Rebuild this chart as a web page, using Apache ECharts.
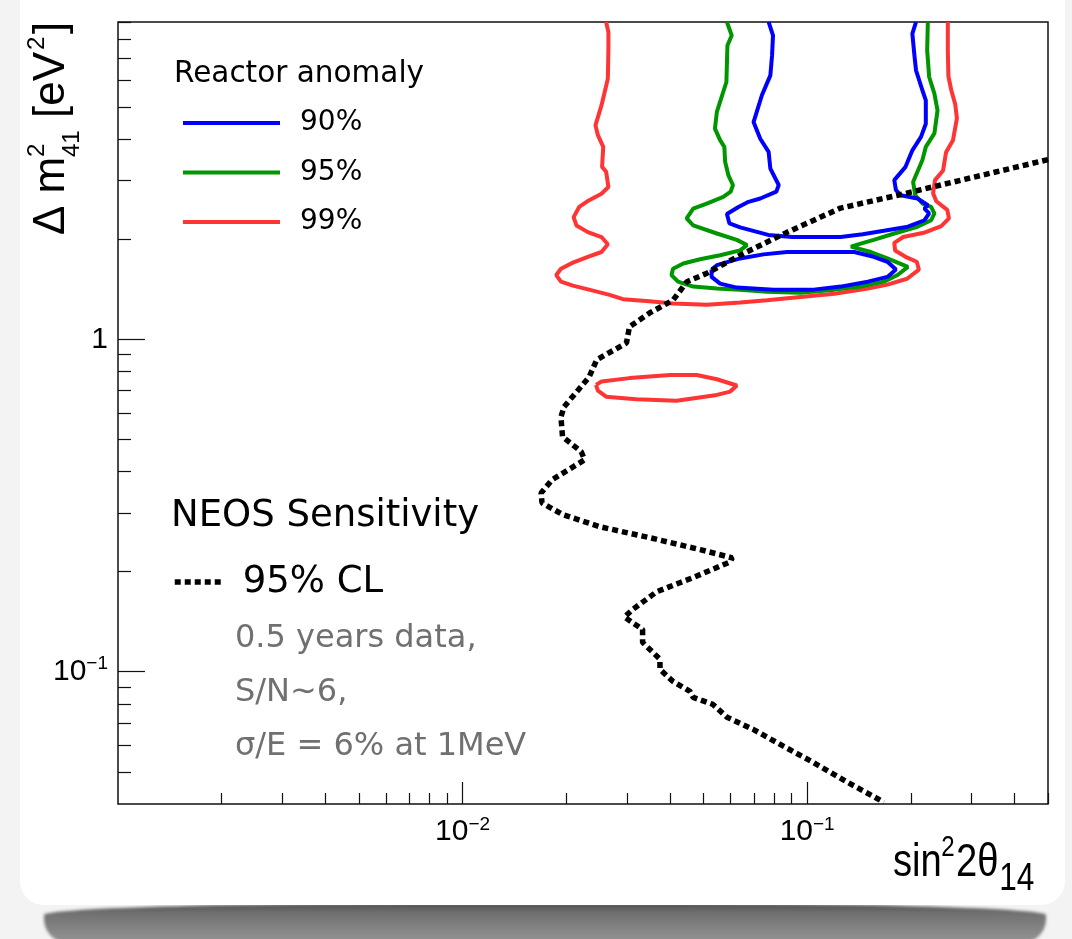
<!DOCTYPE html>
<html>
<head>
<meta charset="utf-8">
<title>NEOS sensitivity vs reactor anomaly</title>
<script src="https://cdn.jsdelivr.net/npm/echarts@6/dist/echarts.min.js"></script>
<style>
  html, body { margin: 0; padding: 0; width: 1072px; height: 939px; overflow: hidden; background: #f3f3f3; }
  #shadow { position: absolute; left: 44px; top: 903px; width: 1002px; height: 40px;
            background: linear-gradient(#4e4e4e, #707070 25%, #959595);
            border-radius: 40% 40% 24px 24px / 12px 12px 24px 24px; filter: blur(1.5px); }
  #paper { position: absolute; left: 20px; top: -24px; width: 1045px; height: 929px;
           background: #fff; border-radius: 24px; }
  #chart { position: absolute; left: 0; top: 0; width: 1072px; height: 939px; }
</style>
</head>
<body>
<div id="shadow"></div>
<div id="paper"></div>
<div id="chart"></div>
<script>
// axis ranges (sin^2 2theta_14 vs dm^2_41)
var xMin = 0.001, xMax = 0.5;
var yMin = 0.04, yMax = 9;

// labelled decades, major and minor tick positions
var xTickLabels = [
  { value: 0.01, text: '{b|10}{e|\u22122}' },
  { value: 0.1, text: '{b|10}{e|\u22121}' }
];
var yTickLabels = [
  { value: 0.1, text: '{b|10}{e|\u22121}' },
  { value: 1, text: '{b|1}' }
];
var xMajor = [0.01, 0.1];
var yMajor = [0.1, 1];
var xMinor = [0.002, 0.003, 0.004, 0.005, 0.006, 0.007, 0.008, 0.009,
              0.02, 0.03, 0.04, 0.05, 0.06, 0.07, 0.08, 0.09,
              0.2, 0.3, 0.4, 0.5];
var yMinor = [0.05, 0.06, 0.07, 0.08, 0.09,
              0.2, 0.3, 0.4, 0.5, 0.6, 0.7, 0.8, 0.9,
              2, 3, 4, 5, 6, 7, 8, 9];

// Reactor anomaly 99% contour (open at the top) + small island
var red99 = [
  [0.0261, 9], [0.0265, 8.39], [0.0265, 7.48], [0.0264, 6.08], [0.0253, 5.05], [0.0243, 4.40],
  [0.0247, 4.11], [0.0256, 3.79], [0.0254, 3.30], [0.0261, 3.19], [0.0265, 2.87], [0.0253, 2.74],
  [0.0233, 2.62], [0.0218, 2.50], [0.0210, 2.33], [0.0214, 2.20], [0.0231, 2.10], [0.0253, 2.03],
  [0.0264, 1.93], [0.0253, 1.83], [0.0231, 1.77], [0.0209, 1.70], [0.0193, 1.63], [0.0187, 1.56],
  [0.0193, 1.49], [0.0209, 1.45], [0.0239, 1.40], [0.0267, 1.36], [0.0292, 1.32], [0.0349, 1.30],
  [0.0408, 1.28], [0.0511, 1.27], [0.0639, 1.29], [0.0764, 1.31], [0.0956, 1.34], [0.120, 1.37],
  [0.150, 1.42], [0.171, 1.46], [0.195, 1.52], [0.211, 1.62], [0.208, 1.71], [0.193, 1.77],
  [0.180, 1.85], [0.179, 1.95], [0.190, 2.03], [0.218, 2.09], [0.245, 2.19], [0.258, 2.31],
  [0.255, 2.45], [0.237, 2.60], [0.232, 2.75], [0.235, 3.01], [0.248, 3.22], [0.253, 3.65],
  [0.265, 3.97], [0.272, 4.62], [0.269, 5.09], [0.262, 5.61], [0.257, 6.18], [0.256, 7.39], [0.256, 9]
];
var red99Island = [
  [0.0244, 0.729], [0.0253, 0.746], [0.0305, 0.764], [0.0400, 0.781], [0.0478, 0.781],
  [0.0547, 0.758], [0.0625, 0.726], [0.0598, 0.696], [0.0547, 0.680], [0.0418, 0.653],
  [0.0319, 0.660], [0.0261, 0.672], [0.0247, 0.701], [0.0244, 0.729]
];

// 95% contour
var green95 = [
  [0.0585, 9], [0.0604, 8.20], [0.0587, 7.65], [0.0583, 5.94], [0.0547, 4.83], [0.0540, 4.30],
  [0.0559, 3.97], [0.0575, 3.79], [0.0578, 3.42], [0.0591, 3.11], [0.0609, 2.91], [0.0600, 2.78],
  [0.0571, 2.68], [0.0511, 2.56], [0.0467, 2.47], [0.0447, 2.31], [0.0467, 2.20], [0.0547, 2.08],
  [0.0625, 1.99], [0.0669, 1.92], [0.0639, 1.85], [0.0559, 1.79], [0.0489, 1.74], [0.0437, 1.69],
  [0.0408, 1.63], [0.0404, 1.56], [0.0422, 1.49], [0.0467, 1.44], [0.0547, 1.42], [0.0639, 1.41],
  [0.0764, 1.39], [0.0956, 1.38], [0.120, 1.41], [0.143, 1.44], [0.167, 1.49], [0.183, 1.56],
  [0.196, 1.65], [0.171, 1.75], [0.153, 1.83], [0.134, 1.90], [0.143, 1.94], [0.156, 1.99],
  [0.179, 2.08], [0.209, 2.18], [0.229, 2.28], [0.234, 2.39], [0.229, 2.50], [0.216, 2.56],
  [0.206, 2.71], [0.203, 2.97], [0.216, 3.46], [0.221, 3.79], [0.234, 4.16], [0.239, 4.88],
  [0.234, 5.48], [0.226, 6.15], [0.223, 7.39], [0.224, 9]
];

// 90% contour: upper band (open at top) + lower closed loop
var blue90 = [
  [0.0773, 9], [0.0796, 8.20], [0.0791, 7.14], [0.0782, 6.22], [0.0739, 5.42], [0.0699, 4.50],
  [0.0731, 4.01], [0.0773, 3.66], [0.0782, 3.26], [0.0827, 2.91], [0.0814, 2.78], [0.0731, 2.65],
  [0.0676, 2.59], [0.0632, 2.50], [0.0585, 2.38], [0.0595, 2.23], [0.0639, 2.17], [0.0771, 2.06],
  [0.0906, 2.03], [0.125, 2.03], [0.145, 2.07], [0.167, 2.12], [0.196, 2.18], [0.219, 2.28],
  [0.226, 2.39], [0.219, 2.47], [0.224, 2.53], [0.209, 2.65], [0.187, 2.71], [0.181, 2.81],
  [0.179, 3.01], [0.193, 3.30], [0.202, 3.70], [0.214, 4.06], [0.221, 4.45], [0.221, 5.23],
  [0.216, 5.61], [0.207, 6.44], [0.205, 7.06], [0.202, 8.30], [0.207, 9]
];
var blue90Island = [
  [0.0528, 1.62], [0.0547, 1.67], [0.0639, 1.75], [0.0747, 1.80], [0.0874, 1.83], [0.137, 1.83],
  [0.156, 1.77], [0.171, 1.71], [0.181, 1.62], [0.171, 1.54], [0.150, 1.49], [0.125, 1.44],
  [0.1045, 1.41], [0.0799, 1.41], [0.0625, 1.43], [0.0559, 1.47], [0.0528, 1.54], [0.0528, 1.62]
];

// NEOS 95% CL sensitivity
var neos95 = [
  [0.5, 3.47], [0.280, 3.01], [0.183, 2.71], [0.125, 2.48], [0.0876, 2.10], [0.0639, 1.79],
  [0.0512, 1.58], [0.0448, 1.49], [0.0408, 1.31], [0.0349, 1.20], [0.0305, 1.09], [0.0299, 0.975],
  [0.0245, 0.867], [0.0233, 0.770], [0.0197, 0.626], [0.0193, 0.584], [0.0195, 0.509], [0.0221, 0.459],
  [0.0226, 0.434], [0.0182, 0.378], [0.0169, 0.345], [0.0170, 0.322], [0.0195, 0.297], [0.0250, 0.273],
  [0.0349, 0.253], [0.0489, 0.233], [0.0606, 0.220], [0.0598, 0.214], [0.0467, 0.192], [0.0366, 0.174],
  [0.0312, 0.154], [0.0295, 0.146], [0.0333, 0.134], [0.0333, 0.1225], [0.0374, 0.109], [0.0374, 0.1016],
  [0.0408, 0.0935], [0.0457, 0.0873], [0.0467, 0.0837], [0.0533, 0.0797], [0.0586, 0.0729], [0.0697, 0.0671],
  [0.0853, 0.0597], [0.104, 0.0534], [0.131, 0.0465], [0.167, 0.0405]
];

var noteLines = ['0.5 years data,', 'S/N~6,', '\u03c3/E = 6% at 1MeV'];

(function() {
  var chart = echarts.init(document.getElementById('chart'));
  var tickFont = '"Liberation Sans", Arial, sans-serif';
  var textFont = '"DejaVu Sans", sans-serif';
  var ink = '#000';
  var gray = '#707070';
  var red = '#ff3535', green = '#009600', blue = '#0000ff';
  var dots = [6, 4];

  function decadeLabel(list) {
    return function(v) {
      for (var i = 0; i < list.length; i++) {
        if (Math.abs(v / list[i].value - 1) < 1e-6) return list[i].text;
      }
      return '';
    };
  }
  function logOf(vals) {
    return vals.map(function(v) { return Math.log10(v); });
  }

  var tickRich = {
    b: { fontSize: 30, fontFamily: tickFont, color: ink, lineHeight: 34 },
    e: { fontSize: 19, fontFamily: tickFont, color: ink, lineHeight: 14, verticalAlign: 'top' }
  };
  var tickLine = { color: '#111', width: 1.2 };

  // overlay axis in log10 units, only used to draw ticks at given values
  function tickAxis(pos, lo, hi, values, len) {
    return {
      type: 'value', min: Math.log10(lo), max: Math.log10(hi), position: pos,
      axisLine: { show: false, onZero: false }, splitLine: { show: false }, axisLabel: { show: false },
      axisTick: { inside: true, length: len, customValues: logOf(values), lineStyle: tickLine }
    };
  }

  function contour(name, data, color) {
    return {
      type: 'line', name: name, data: data,
      symbol: 'none', showSymbol: false,
      lineStyle: { color: color, width: 4 },
      itemStyle: { color: color },
      clip: true, silent: true, z: 2
    };
  }

  // text pieces for the axis titles (super/subscripts placed by hand)
  function piece(text, x, y, size) {
    return { type: 'text', x: x, y: y,
      style: { text: text, fontSize: size, fontFamily: tickFont, fill: ink, align: 'left', verticalAlign: 'middle' } };
  }

  var notes = noteLines.map(function(t, i) {
    return { type: 'text', x: 235, y: 639 + i * 54,
      style: { text: t, fontSize: 32, fontFamily: textFont, fill: gray, verticalAlign: 'middle' } };
  });

  chart.setOption({
    animation: false,
    grid: { left: 118, top: 22, width: 930, height: 782, show: true, borderColor: '#111', borderWidth: 1.5 },
    xAxis: [{
      type: 'log', logBase: 10, min: xMin, max: xMax, position: 'bottom',
      axisLine: { show: false, onZero: false }, splitLine: { show: false },
      axisTick: { show: false },
      axisLabel: { margin: 11, formatter: decadeLabel(xTickLabels), rich: tickRich }
    },
      tickAxis('bottom', xMin, xMax, xMinor, 11),
      tickAxis('bottom', xMin, xMax, xMajor, 22)
    ],
    yAxis: [{
      type: 'log', logBase: 10, min: yMin, max: yMax, position: 'left',
      axisLine: { show: false, onZero: false }, splitLine: { show: false },
      axisTick: { show: false },
      axisLabel: { margin: 10, formatter: decadeLabel(yTickLabels), rich: tickRich }
    },
      tickAxis('left', yMin, yMax, yMinor, 13),
      tickAxis('left', yMin, yMax, yMajor, 27)
    ],
    legend: [{
      data: ['90%', '95%', '99%'], orient: 'vertical', left: 181, top: 105, padding: 0,
      itemWidth: 97, itemHeight: 14, itemGap: 13.5, selectedMode: false,
      itemStyle: { opacity: 0 },
      lineStyle: { width: 4 },
      textStyle: { fontSize: 28, fontFamily: textFont, color: ink, lineHeight: 36, padding: [0, 0, 0, 15] }
    }, {
      data: ['95% CL'], orient: 'vertical', left: 172, top: 560, padding: 0,
      itemWidth: 50, itemHeight: 14, selectedMode: false,
      itemStyle: { opacity: 0 },
      lineStyle: { width: 5.5, type: dots, cap: 'butt' },
      textStyle: { fontSize: 37, fontFamily: textFont, color: ink, lineHeight: 44, padding: [0, 0, 0, 13] }
    }],
    graphic: [
      { type: 'text', x: 174, y: 74,
        style: { text: 'Reactor anomaly', fontSize: 29.5, fontFamily: textFont, fill: ink, verticalAlign: 'middle' } },
      { type: 'text', x: 171, y: 516.5,
        style: { text: 'NEOS Sensitivity', fontSize: 37, fontFamily: textFont, fill: ink, verticalAlign: 'middle' } },
      // y title: Delta m^2_41 [eV^2], rotated
      { type: 'group', x: 67, y: 235, rotation: Math.PI / 2, children: [
        piece('\u0394 m', 0, -15, 44),
        piece('2', 78, -30, 24),
        piece('41', 78, 5, 24),
        piece('[eV', 117, -15, 44),
        piece('2', 185, -30, 24),
        piece(']', 201, -15, 44)
      ] },
      // x title: sin^2 2theta_14 (condensed)
      { type: 'group', x: 893, y: 0, scaleX: 0.83, children: [
        piece('sin', 0, 863, 46),
        piece('2', 58, 848, 29),
        piece('2\u03b8', 76, 863, 46),
        piece('14', 128, 880, 38)
      ] }
    ].concat(notes),
    series: [
      contour('99%', red99, red),
      contour('99%', red99Island, red),
      contour('95%', green95, green),
      contour('90%', blue90, blue),
      contour('90%', blue90Island, blue),
      {
        type: 'line', name: '95% CL', data: neos95,
        symbol: 'none', showSymbol: false,
        lineStyle: { color: ink, width: 5.5, type: dots, cap: 'butt' },
        itemStyle: { color: ink },
        clip: true, silent: true, z: 3
      }
    ]
  });
  window.addEventListener('resize', function() { chart.resize(); });
})();
</script>
</body>
</html>
